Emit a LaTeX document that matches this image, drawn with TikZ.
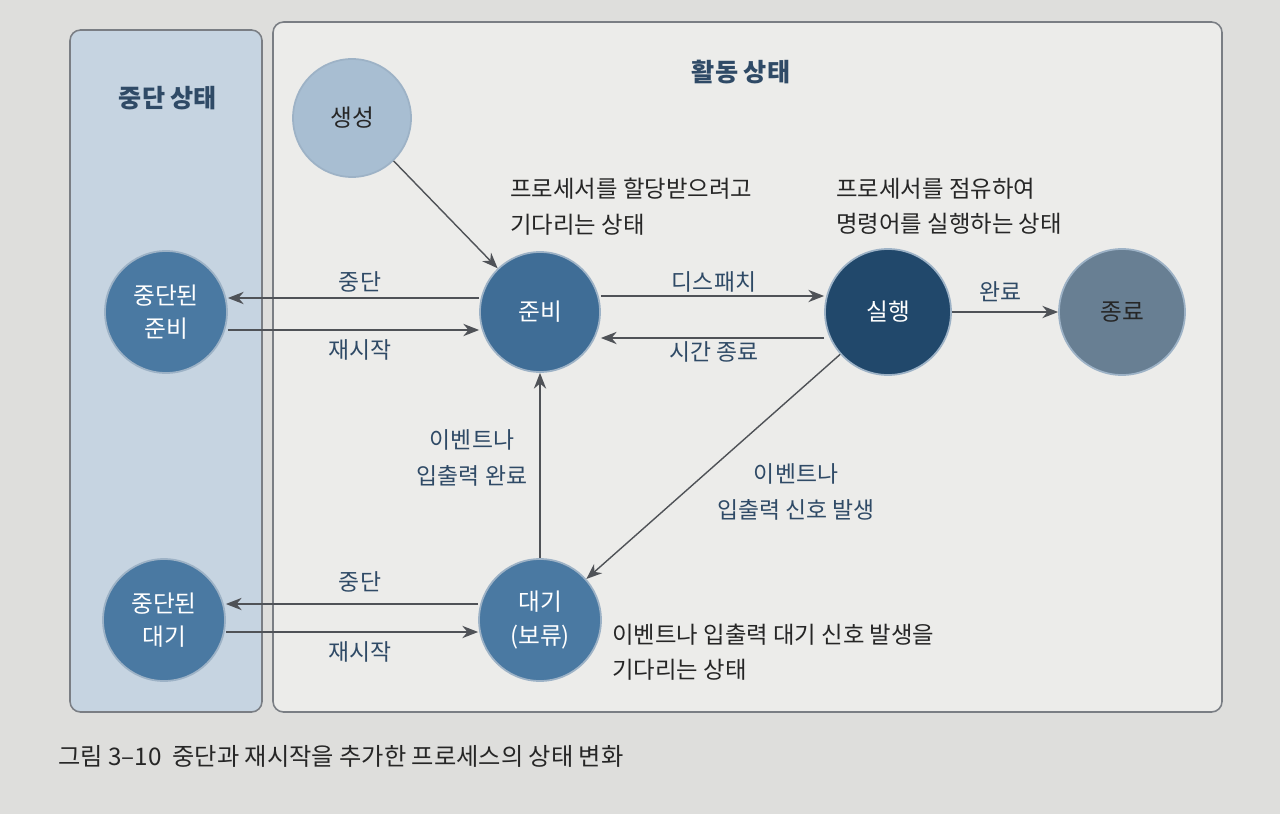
\documentclass[tikz,border=0pt]{standalone}
\usepackage{fontspec}
\setmainfont{Noto Sans CJK KR}
\usetikzlibrary{arrows.meta}
\definecolor{bgpaper}{HTML}{DEDEDC}
\definecolor{panelmain}{HTML}{ECECEA}
\definecolor{panelleft}{HTML}{C6D4E1}
\definecolor{framecol}{HTML}{7A7E84}
\definecolor{nodemid}{HTML}{3F6D96}
\definecolor{nodedark}{HTML}{21486B}
\definecolor{nodelight}{HTML}{A8BED2}
\definecolor{nodeend}{HTML}{687F93}
\definecolor{nodesusp}{HTML}{4A79A2}
\definecolor{ringcol}{HTML}{9DB2C6}
\definecolor{labcol}{HTML}{2F4A66}
\definecolor{txtcol}{HTML}{262626}
\definecolor{arrcol}{HTML}{4F5257}
\tikzset{
  state/.style={circle, draw=ringcol, line width=1pt, text=white, align=center, font=\fontsize{13.5}{19}\selectfont, inner sep=0pt},
  arr/.style={draw=arrcol, line width=0.8pt, -{Stealth[length=9pt,width=7pt]}},
  elab/.style={text=labcol, font=\fontsize{13}{20}\selectfont, align=center, inner sep=0pt},
  desc/.style={text=txtcol, font=\fontsize{13.3}{20}\selectfont, align=left, anchor=north west, inner sep=0pt},
  ttl/.style={text=labcol, font=\fontsize{14.3}{17}\selectfont\bfseries, inner sep=0pt},
}
\begin{document}
\begin{tikzpicture}[x=0.02cm,y=-0.02cm]
\useasboundingbox (0,0) rectangle (1280,814);
\fill[bgpaper] (0,0) rectangle (1280,814);
% panels
\draw[framecol, fill=panelleft, line width=0.9pt, rounded corners=6pt] (70,30) rectangle (262,712);
\draw[framecol, fill=panelmain, line width=0.9pt, rounded corners=6pt] (273,22) rectangle (1222,712);
\node[ttl] (tleft) at (168,98) {중단 상태};
\node[ttl] (tmain) at (741,72) {활동 상태};
% states
\node[state, fill=nodelight, text=txtcol, minimum size=118*0.02cm] (new) at (352,118) {생성};
\node[state, fill=nodemid, minimum size=120*0.02cm] (ready) at (540,312) {준비};
\node[state, fill=nodedark, minimum size=126*0.02cm] (run) at (888,312) {실행};
\node[state, fill=nodeend, text=txtcol, minimum size=126*0.02cm] (term) at (1122,312) {종료};
\node[state, fill=nodesusp, minimum size=122*0.02cm] (sready) at (166,312) {중단된\\준비};
\node[state, fill=nodesusp, minimum size=122*0.02cm] (wait) at (540,620) {대기\\(보류)};
\node[state, fill=nodesusp, minimum size=122*0.02cm] (swait) at (164,620) {중단된\\대기};
% connectors
\draw[arr] (new) -- (ready);
\draw[arr] (ready.west |- 0,298) -- (sready.east |- 0,298);
\draw[arr] (sready.east |- 0,330) -- (ready.west |- 0,330);
\draw[arr] (ready.east |- 0,296) -- (run.west |- 0,296);
\draw[arr] (run.west |- 0,338) -- (ready.east |- 0,338);
\draw[arr] (run) -- (term);
\draw[arr] (wait) -- (ready);
\draw[arr] (run) -- (wait);
\draw[arr] (wait.west |- 0,604) -- (swait.east |- 0,604);
\draw[arr] (swait.east |- 0,632) -- (wait.west |- 0,632);
% edge labels
\node[elab] (l1) at (360,282) {중단};
\node[elab] (l2) at (360,350) {재시작};
\node[elab] (l3) at (714,282) {디스패치};
\node[elab] (l4) at (714,352) {시간 종료};
\node[elab] (l5) at (1000,292) {완료};
\node[elab] (l6) at (472,458) {이벤트나\\입출력 완료};
\node[elab] (l7) at (796,492) {이벤트나\\입출력 신호 발생};
\node[elab] (l8) at (360,582) {중단};
\node[elab] (l9) at (360,652) {재시작};
% descriptions
\node[desc] (d1) at (510,178) {프로세서를 할당받으려고\\기다리는 상태};
\node[desc] (d2) at (836,178) {프로세서를 점유하여\\명령어를 실행하는 상태};
\node[desc] (d3) at (612,624) {이벤트나 입출력 대기 신호 발생을\\기다리는 상태};
% caption
\node[text=txtcol, font=\fontsize{13.8}{16}\selectfont, anchor=west, inner sep=0pt] (cap) at (58,756) {그림 3–10\ \ 중단과 재시작을 추가한 프로세스의 상태 변화};
\end{tikzpicture}
\end{document}
